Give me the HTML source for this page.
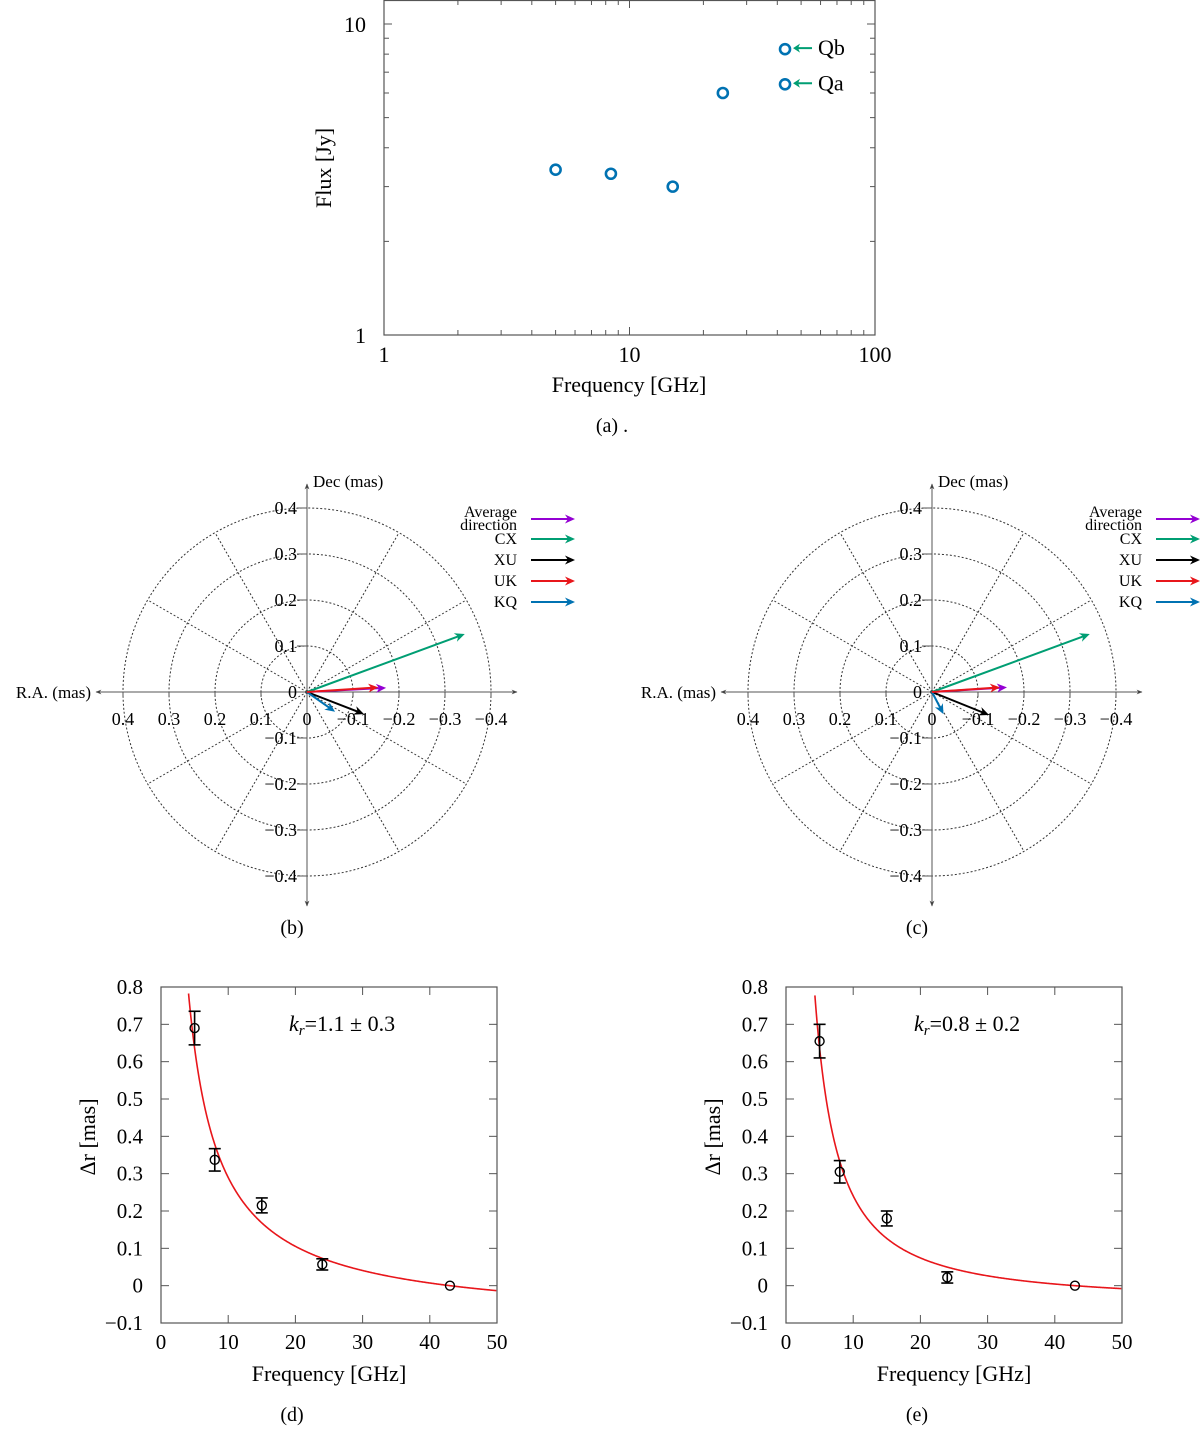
<!DOCTYPE html>
<html><head><meta charset="utf-8"><style>
html,body{margin:0;padding:0;background:#fff;}
svg{display:block;font-family:"Liberation Serif",serif;}
</style></head><body>
<svg id="fig" width="1200" height="1431" viewBox="0 0 1200 1431" xmlns="http://www.w3.org/2000/svg">
<defs>
<marker id="ah" viewBox="0 0 10 10" refX="9" refY="5" markerWidth="6" markerHeight="6" orient="auto-start-reverse"><path d="M0,1 L10,5 L0,9 L3,5 Z" fill="#444"/></marker>
</defs>
</svg>
<script>
// ---------- Panel (a) data ----------
const fluxFreq = [5, 8.4, 15, 24, 43, 43];
const fluxVal = [3.4, 3.3, 3.0, 6.0, 6.4, 8.3];
const fluxLabels = ["", "", "", "", "Qa", "Qb"];
const aXTicks = [1, 10, 100];
const aYTicks = [1, 10];
// ---------- Polar panels data (RA, Dec in mas) ----------
const seriesNames = ["Average direction", "CX", "XU", "UK", "KQ"];
const seriesColors = ["#9400d3", "#009e73", "#000000", "#e8161b", "#0072b2"];
const bRA = [-0.172, -0.343, -0.124, -0.155, -0.061];
const bDec = [0.009, 0.126, -0.048, 0.010, -0.043];
const cRA = [-0.163, -0.343, -0.124, -0.148, -0.025];
const cDec = [0.010, 0.126, -0.050, 0.010, -0.048];
const polarTicks = [0.4, 0.3, 0.2, 0.1, 0, -0.1, -0.2, -0.3, -0.4];
// ---------- Panels (d),(e) data ----------
const drFreq = [5, 8, 15, 24, 43];
const dVals = [0.69, 0.337, 0.215, 0.057, 0];
const dErr = [0.045, 0.03, 0.02, 0.015, 0];
const eVals = [0.655, 0.305, 0.18, 0.022, 0];
const eErr = [0.045, 0.03, 0.02, 0.015, 0];
const fitParams = [[3.2, 1.1, 43], [5.1, 0.8, 43]]; // amplitude, k_r, reference freq
const drXTicks = [0, 10, 20, 30, 40, 50];
const drYTicks = [-0.1, 0, 0.1, 0.2, 0.3, 0.4, 0.5, 0.6, 0.7, 0.8];

const NS = "http://www.w3.org/2000/svg";
const svg = document.getElementById("fig");
function el(tag, attrs, parent, text) {
  const e = document.createElementNS(NS, tag);
  for (const k in attrs) e.setAttribute(k, attrs[k]);
  if (text !== undefined) e.textContent = text;
  (parent || svg).appendChild(e);
  return e;
}
function fmt(v) { return v < 0 ? "\u2212" + Math.abs(v).toFixed(1) : (v === 0 ? "0" : v.toFixed(1)); }

// ================= Panel (a) =================
(function () {
  const g = el("g", {});
  
  
  const L = 384, R = 875, T = 0, B = 335;
  const xs = f => L + Math.log10(f) * (R - L) / 2;
  const ys = v => B - Math.log10(v) * 311;
  const frame = el("rect", { x: L, y: T + 0.5, width: R - L, height: B - T - 0.5, fill: "none", stroke: "#555", "stroke-width": 1.2 }, g);
  
  
  for (let d = 1; d < 100; d *= 10) for (let m = 1; m < 10; m++) {
    const f = d * m; const x = xs(f); const len = m === 1 ? 8 : 5;
    el("line", { x1: x, y1: B, x2: x, y2: B - len, stroke: "#555" }, g);
    el("line", { x1: x, y1: T, x2: x, y2: T + len, stroke: "#555" }, g);
  }
  for (let m = 1; m <= 10; m++) {
    const y = ys(m); const len = (m === 1 || m === 10) ? 8 : 5;
    el("line", { x1: L, y1: y, x2: L + len, y2: y, stroke: "#555" }, g);
    el("line", { x1: R, y1: y, x2: R - len, y2: y, stroke: "#555" }, g);
  }
  aXTicks.forEach(t => {
    const tx = el("text", { x: xs(t), y: B + 27, "text-anchor": "middle", "font-size": 22 }, g, String(t));
    
    
  });
  aYTicks.forEach(t => {
    const tx = el("text", { x: L - 18, y: ys(t) + 8, "text-anchor": "end", "font-size": 22 }, g, String(t));
    
    
  });
  fluxFreq.forEach((f, i) => {
    const c = el("circle", { cx: xs(f), cy: ys(fluxVal[i]), r: 5, fill: "none", stroke: "#0072b2", "stroke-width": 2.6 }, g);
    
    
    if (fluxLabels[i]) {
      const y = ys(fluxVal[i]) - 1;
      el("line", { x1: xs(f) + 27, y1: y, x2: xs(f) + 11, y2: y, stroke: "#009e73", "stroke-width": 2 }, g);
      el("path", { d: `M${xs(f) + 8},${y} l7,-4.5 l-2,4.5 l2,4.5 z`, fill: "#009e73" }, g);
      const tx = el("text", { x: xs(f) + 33, y: y + 7, "font-size": 22 }, g, fluxLabels[i]);
      
      
    }
  });
  const xt = el("text", { x: 629, y: 392, "text-anchor": "middle", "font-size": 22 }, g, "Frequency [GHz]");
  
  
  const yt = el("text", { x: 0, y: 0, "text-anchor": "middle", "font-size": 22, transform: "translate(331,168) rotate(-90)" }, g, "Flux [Jy]");
  
  
  const cap = el("text", { x: 612, y: 432, "text-anchor": "middle", "font-size": 20 }, g, "(a) .");
  
  
})();

// ================= Polar panels =================
function polar(ox, oy, RA, DEC, caption, name) {
  const g = el("g", {});
  
  
  const s = 460; // px per mas
  const px = ra => ox - ra * s;
  const py = d => oy - d * s;
  const dot = { fill: "none", stroke: "#333", "stroke-width": 1, "stroke-dasharray": "2 2" };
  for (let r = 1; r <= 4; r++) el("circle", Object.assign({ cx: ox, cy: oy, r: r * 0.1 * s }, dot), g);
  for (let a = 0; a < 360; a += 30) {
    const rad = a * Math.PI / 180;
    el("line", Object.assign({ x1: ox, y1: oy, x2: ox + Math.cos(rad) * 0.4 * s, y2: oy - Math.sin(rad) * 0.4 * s }, dot), g);
  }
  const xa = el("line", { x1: ox - 211, y1: oy, x2: ox + 210, y2: oy, stroke: "#555", "stroke-width": 1, "marker-start": "url(#ah)", "marker-end": "url(#ah)" }, g);
  
  
  const ya = el("line", { x1: ox, y1: oy - 208, x2: ox, y2: oy + 214, stroke: "#555", "stroke-width": 1, "marker-start": "url(#ah)", "marker-end": "url(#ah)" }, g);
  
  
  polarTicks.forEach(t => {
    el("line", { x1: px(t), y1: oy, x2: px(t), y2: oy + 5, stroke: "#555" }, g);
    const tx = el("text", { x: px(t), y: oy + 33, "text-anchor": "middle", "font-size": 18 }, g, fmt(t));
    
    
    el("line", { x1: ox - 10, y1: py(t), x2: ox, y2: py(t), stroke: "#555" }, g);
    const ty = el("text", { x: ox - 10, y: py(t) + 6, "text-anchor": "end", "font-size": 18 }, g, fmt(t));
    
    
  });
  const rl = el("text", { x: ox - 216, y: oy + 6, "text-anchor": "end", "font-size": 17 }, g, "R.A. (mas)");
  
  
  const dl = el("text", { x: ox + 6, y: oy - 205, "font-size": 17 }, g, "Dec (mas)");
  
  
  function arrow(x1, y1, x2, y2, col, par) {
    const ang = Math.atan2(y2 - y1, x2 - x1);
    const bx = x2 - Math.cos(ang) * 6, by = y2 - Math.sin(ang) * 6;
    el("line", { x1, y1, x2: bx, y2: by, stroke: col, "stroke-width": 2 }, par);
    const p = (d, t) => [x2 + Math.cos(ang + t) * d, y2 + Math.sin(ang + t) * d];
    const a = p(11, Math.PI - 0.42), b = p(11, Math.PI + 0.42), c = p(7, Math.PI);
    el("path", { d: `M${x2},${y2} L${a[0]},${a[1]} L${c[0]},${c[1]} L${b[0]},${b[1]} Z`, fill: col }, par);
  }
  [0, 1, 2, 4, 3].forEach(i => {
    const vg = el("g", {}, g);
    
    
    arrow(ox, oy, px(RA[i]), py(DEC[i]), seriesColors[i], vg);
  });
  const legY = [519, 539, 560, 581, 602];
  seriesNames.forEach((n, i) => {
    const lg = el("g", {}, g);
    
    
    const lx = ox + 210;
    if (i === 0) {
      el("text", { x: lx, y: 517, "text-anchor": "end", "font-size": 16 }, lg, "Average");
      el("text", { x: lx, y: 530, "text-anchor": "end", "font-size": 16 }, lg, "direction");
    } else {
      el("text", { x: lx, y: legY[i] + 5, "text-anchor": "end", "font-size": 16 }, lg, n);
    }
    arrow(ox + 224, legY[i], ox + 268, legY[i], seriesColors[i], lg);
  });
  const cap = el("text", { x: ox - 15, y: oy + 242, "text-anchor": "middle", "font-size": 20 }, g, caption);
  
  
}
polar(307, 692, bRA, bDec, "(b)", "polar-panel-b");
polar(932, 692, cRA, cDec, "(c)", "polar-panel-c");

// ================= Panels (d), (e) =================
function drPanel(L, vals, errs, fit, caption, kLabel, name) {
  const g = el("g", {});
  
  
  const R = L + 336, T = 987, B = 1323;
  const xs = f => L + f / 50 * (R - L);
  const ys = v => B - (v + 0.1) / 0.9 * (B - T);
  const fr = el("rect", { x: L, y: T, width: R - L, height: B - T, fill: "none", stroke: "#555", "stroke-width": 1.2 }, g);
  
  
  drXTicks.forEach(t => {
    el("line", { x1: xs(t), y1: B, x2: xs(t), y2: B - 8, stroke: "#555" }, g);
    el("line", { x1: xs(t), y1: T, x2: xs(t), y2: T + 8, stroke: "#555" }, g);
    const tx = el("text", { x: xs(t), y: B + 26, "text-anchor": "middle", "font-size": 21 }, g, String(t));
    
    
  });
  drYTicks.forEach(t => {
    el("line", { x1: L, y1: ys(t), x2: L + 8, y2: ys(t), stroke: "#555" }, g);
    el("line", { x1: R, y1: ys(t), x2: R - 8, y2: ys(t), stroke: "#555" }, g);
    const tx = el("text", { x: L - 18, y: ys(t) + 7, "text-anchor": "end", "font-size": 21 }, g, fmt(t));
    
    
  });
  const [A, k, f0] = fit;
  let d = "";
  for (let f = 3; f <= 50; f += 0.1) {
    const v = A * (Math.pow(f, -1 / k) - Math.pow(f0, -1 / k));
    if (v > 0.8) continue;
    d += (d ? " L" : "M") + xs(f).toFixed(2) + "," + ys(v).toFixed(2);
  }
  const cv = el("path", { d, fill: "none", stroke: "#e8161b", "stroke-width": 1.6 }, g);
  
  
  drFreq.forEach((f, i) => {
    const pg = el("g", {}, g);
    
    
    const x = xs(f), y = ys(vals[i]);
    if (errs[i] > 0) {
      const y1 = ys(vals[i] + errs[i]), y2 = ys(vals[i] - errs[i]);
      el("line", { x1: x, y1, x2: x, y2, stroke: "#000", "stroke-width": 1.6 }, pg);
      el("line", { x1: x - 6, y1, x2: x + 6, y2: y1, stroke: "#000", "stroke-width": 1.6 }, pg);
      el("line", { x1: x - 6, y1: y2, x2: x + 6, y2, stroke: "#000", "stroke-width": 1.6 }, pg);
    }
    el("circle", { cx: x, cy: y, r: 4.5, fill: "none", stroke: "#000", "stroke-width": 1.4 }, pg);
  });
  const kt = el("text", { x: L + 128, y: 1031, "font-size": 22 }, g);
  
  
  el("tspan", { "font-style": "italic" }, kt, "k");
  el("tspan", { "font-style": "italic", "font-size": 15, dy: 4 }, kt, "r");
  el("tspan", { dy: -4 }, kt, "=" + kLabel);
  const xt = el("text", { x: L + 168, y: 1381, "text-anchor": "middle", "font-size": 22 }, g, "Frequency [GHz]");
  
  
  const yt = el("text", { x: 0, y: 0, "text-anchor": "middle", "font-size": 22, transform: `translate(${L - 66},1137) rotate(-90)` }, g, "\u0394r [mas]");
  
  
  const cap = el("text", { x: L + 131, y: 1421, "text-anchor": "middle", "font-size": 20 }, g, caption);
  
  
}
drPanel(161, dVals, dErr, fitParams[0], "(d)", "1.1 \u00b1 0.3", "delta-r-panel-d");
drPanel(786, eVals, eErr, fitParams[1], "(e)", "0.8 \u00b1 0.2", "delta-r-panel-e");
</script>
</body></html>
